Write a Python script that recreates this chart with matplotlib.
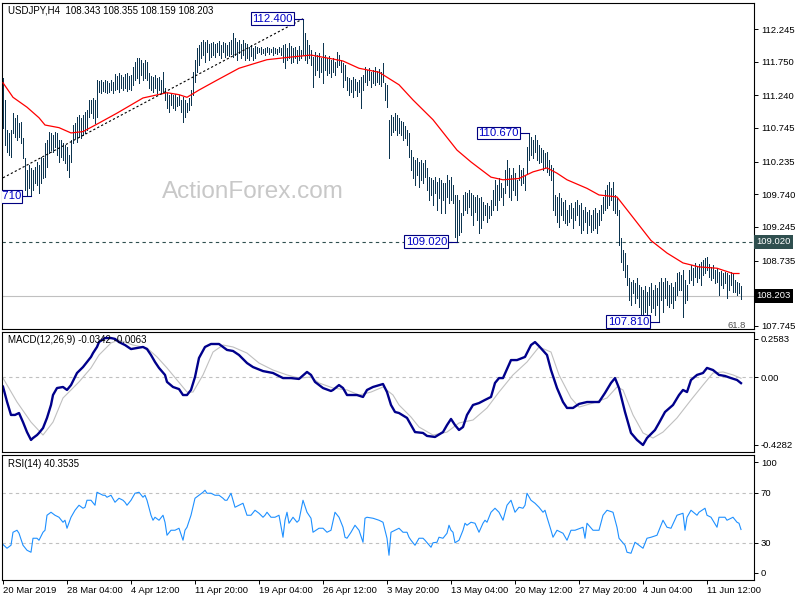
import matplotlib
matplotlib.use('Agg')
import matplotlib.pyplot as plt

plt.rcParams['font.family'] = ['Liberation Sans', 'DejaVu Sans']

# ---- data (H4 bars, index 0 = first visible bar) ----
highs = [
    111.50, 111.17, 110.71, 110.67, 110.71, 110.97, 110.90, 110.94, 110.82, 110.84,
    110.59, 110.29, 110.11, 110.18, 110.14, 110.11, 110.15, 110.23, 110.18, 110.31,
    110.29, 110.52, 110.56, 110.68, 110.67, 110.64, 110.68, 110.67, 110.56, 110.56,
    110.52, 110.49, 110.46, 110.34, 110.56, 110.79, 110.82, 110.91, 110.94, 110.90,
    110.94, 110.99, 111.02, 111.17, 111.17, 111.20, 111.17, 111.47, 111.46, 111.47,
    111.44, 111.47, 111.46, 111.43, 111.47, 111.44, 111.56, 111.53, 111.58, 111.55,
    111.52, 111.56, 111.58, 111.53, 111.55, 111.67, 111.74, 111.81, 111.81, 111.78,
    111.73, 111.78, 111.74, 111.58, 111.53, 111.52, 111.55, 111.50, 111.52, 111.47,
    111.59, 111.35, 111.28, 111.25, 111.28, 111.25, 111.26, 111.21, 111.25, 111.17,
    111.21, 111.17, 111.12, 111.20, 111.32, 111.59, 111.78, 111.96, 112.00, 112.05,
    112.08, 112.05, 112.08, 112.02, 112.03, 112.05, 112.02, 112.03, 112.06, 112.00,
    112.05, 112.03, 112.00, 112.05, 112.08, 112.18, 112.11, 112.05, 112.08, 112.02,
    112.08, 112.03, 112.02, 111.97, 112.00, 111.96, 111.99, 111.97, 111.96, 111.97,
    111.94, 111.96, 111.97, 111.96, 111.94, 111.97, 111.96, 111.94, 111.97, 111.96,
    112.00, 112.02, 111.96, 112.03, 111.99, 111.96, 111.97, 111.93, 111.99, 111.93,
    112.40, 112.18, 112.08, 112.00, 111.93, 111.82, 111.90, 111.85, 111.88, 111.81,
    112.03, 111.85, 111.81, 111.84, 111.78, 111.81, 111.74, 111.90, 111.85, 111.78,
    111.73, 111.70, 111.52, 111.50, 111.47, 111.52, 111.49, 111.44, 111.47, 111.52,
    111.55, 111.67, 111.62, 111.65, 111.59, 111.62, 111.67, 111.61, 111.64, 111.59,
    111.73, 111.43, 111.40, 110.87, 110.94, 110.91, 110.97, 110.94, 110.90, 110.85,
    110.84, 110.78, 110.71, 110.67, 110.41, 110.31, 110.26, 110.29, 110.23, 110.26,
    110.21, 110.26, 110.14, 110.00, 109.99, 109.96, 110.00, 109.93, 109.99, 109.96,
    109.91, 109.91, 110.03, 109.96, 110.00, 109.88, 109.73, 109.73, 109.65, 109.46,
    109.73, 109.77, 109.76, 109.80, 109.76, 109.73, 109.70, 109.73, 109.68, 109.70,
    109.62, 109.58, 109.61, 109.56, 109.65, 109.80, 109.96, 109.88, 109.99, 109.91,
    109.83, 110.11, 110.26, 110.14, 110.03, 110.14, 110.06, 109.96, 110.18, 110.11,
    110.14, 110.03, 110.46, 110.67, 110.61, 110.56, 110.64, 110.56, 110.49, 110.44,
    110.41, 110.37, 110.38, 110.26, 110.18, 110.14, 109.73, 109.70, 109.76, 109.68,
    109.62, 109.65, 109.50, 109.58, 109.61, 109.53, 109.62, 109.65, 109.58, 109.61,
    109.50, 109.55, 109.47, 109.50, 109.43, 109.50, 109.53, 109.46, 109.50, 109.58,
    109.70, 109.80, 109.88, 109.93, 109.83, 109.93, 109.73, 109.68, 109.50, 109.08,
    108.90, 108.85, 108.67, 108.47, 108.41, 108.44, 108.40, 108.47, 108.37, 108.33,
    108.29, 108.35, 108.26, 108.33, 108.40, 108.29, 108.37, 108.32, 108.41, 108.47,
    108.41, 108.47, 108.43, 108.37, 108.40, 108.33, 108.41, 108.55, 108.56, 108.52,
    108.59, 108.44, 108.37, 108.59, 108.67, 108.62, 108.70, 108.64, 108.68, 108.71,
    108.74, 108.77, 108.79, 108.68, 108.64, 108.67, 108.59, 108.62, 108.56, 108.58,
    108.55, 108.56, 108.55, 108.52, 108.56, 108.53, 108.44, 108.41, 108.40, 108.355,
]
lows = [
    110.74, 110.49, 110.38, 110.34, 110.31, 110.67, 110.61, 110.56, 110.61, 110.52,
    110.29, 109.81, 109.73, 109.83, 109.71, 109.81, 109.91, 109.88, 109.76, 109.91,
    109.99, 110.00, 110.15, 110.37, 110.41, 110.38, 110.46, 110.34, 110.23, 110.31,
    110.26, 110.21, 110.11, 110.00, 110.23, 110.52, 110.59, 110.53, 110.61, 110.59,
    110.64, 110.67, 110.71, 110.91, 110.97, 110.90, 110.82, 110.91, 111.29, 111.28,
    111.30, 111.29, 111.28, 111.29, 111.32, 111.28, 111.32, 111.34, 111.29, 111.35,
    111.32, 111.35, 111.31, 111.34, 111.32, 111.40, 111.47, 111.50, 111.43, 111.55,
    111.47, 111.50, 111.47, 111.35, 111.32, 111.29, 111.35, 111.28, 111.32, 111.29,
    111.28, 111.17, 111.05, 110.99, 111.09, 111.05, 111.02, 111.08, 111.09, 110.99,
    110.84, 110.91, 110.99, 111.02, 111.09, 111.25, 111.44, 111.59, 111.70, 111.81,
    111.85, 111.74, 111.90, 111.78, 111.82, 111.85, 111.82, 111.90, 111.85, 111.81,
    111.90, 111.82, 111.85, 111.84, 111.87, 111.82, 111.85, 111.78, 111.88, 111.81,
    111.85, 111.78, 111.81, 111.78, 111.84, 111.78, 111.81, 111.88, 111.90, 111.87,
    111.88, 111.85, 111.90, 111.87, 111.90, 111.85, 111.88, 111.87, 111.90, 111.85,
    111.74, 111.65, 111.78, 111.81, 111.73, 111.74, 111.81, 111.73, 111.78, 111.81,
    111.85, 111.78, 111.73, 111.81, 111.70, 111.37, 111.55, 111.62, 111.52, 111.59,
    111.43, 111.62, 111.55, 111.58, 111.52, 111.59, 111.55, 111.67, 111.70, 111.59,
    111.37, 111.47, 111.32, 111.25, 111.29, 111.21, 111.32, 111.23, 111.29, 111.05,
    111.32, 111.44, 111.40, 111.47, 111.37, 111.43, 111.40, 111.44, 111.41, 111.38,
    111.44, 111.17, 111.06, 110.29, 110.64, 110.68, 110.71, 110.64, 110.67, 110.64,
    110.56, 110.59, 110.49, 110.31, 110.11, 109.99, 109.88, 110.03, 109.85, 109.96,
    109.91, 110.00, 109.81, 109.65, 109.73, 109.58, 109.76, 109.50, 109.68, 109.46,
    109.65, 109.46, 109.70, 109.61, 109.65, 109.61, 109.09, 109.02, 109.12, 109.17,
    109.43, 109.50, 109.46, 109.55, 109.43, 109.27, 109.47, 109.35, 109.15, 109.23,
    109.35, 109.43, 109.32, 109.38, 109.43, 109.50, 109.58, 109.50, 109.65, 109.70,
    109.58, 109.76, 109.88, 109.70, 109.65, 109.81, 109.73, 109.65, 109.96, 109.88,
    109.91, 109.81, 110.06, 110.26, 110.34, 110.29, 110.38, 110.26, 110.21, 110.23,
    110.11, 110.14, 110.08, 110.03, 109.96, 109.50, 109.43, 109.32, 109.24, 109.43,
    109.35, 109.30, 109.27, 109.32, 109.38, 109.23, 109.35, 109.43, 109.27, 109.15,
    109.20, 109.32, 109.15, 109.27, 109.17, 109.20, 109.23, 109.15, 109.27, 109.35,
    109.46, 109.50, 109.53, 109.58, 109.65, 109.50, 109.46, 109.43, 108.97, 108.71,
    108.59, 108.49, 108.37, 108.14, 108.06, 108.24, 108.09, 108.17, 108.03, 107.87,
    107.86, 107.96, 107.91, 108.06, 107.96, 108.02, 107.91, 108.06, 107.81, 108.14,
    107.96, 108.17, 108.06, 108.03, 108.09, 108.02, 108.14, 108.21, 108.29, 108.29,
    107.88, 108.09, 108.14, 108.40, 108.44, 108.37, 108.49, 108.41, 108.47, 108.37,
    108.52, 108.55, 108.59, 108.49, 108.44, 108.47, 108.40, 108.41, 108.21, 108.37,
    108.32, 108.40, 108.17, 108.29, 108.37, 108.26, 108.26, 108.21, 108.24, 108.159,
]

ma_idx = [0, 5, 12, 18, 21, 28, 34, 40, 48, 57, 70, 82, 88, 92, 98, 107, 118, 132,
          144, 154, 165, 170, 178, 188, 198, 205, 215, 227, 234, 244, 250, 258, 265,
          272, 277, 282, 292, 298, 307, 315, 324, 332, 340, 348, 357, 365, 368]
ma_val = [111.43, 111.21, 111.06, 110.90, 110.79, 110.75, 110.67, 110.69, 110.82,
          110.97, 111.20, 111.28, 111.25, 111.21, 111.32, 111.47, 111.65, 111.78,
          111.82, 111.85, 111.79, 111.76, 111.65, 111.59, 111.40, 111.17, 110.87,
          110.41, 110.23, 110.00, 109.96, 109.98, 110.08, 110.14, 110.06, 109.96,
          109.83, 109.73, 109.70, 109.39, 109.04, 108.85, 108.70, 108.64, 108.62,
          108.54, 108.54]

macd_idx = [0, 2, 4, 6, 8, 10, 12, 14, 15, 17, 18, 20, 22, 24, 25, 27, 30, 32, 34, 37,
            40, 42, 44, 45, 47, 48, 51, 54, 56, 58, 61, 64, 67, 70, 72, 74, 76, 78, 81,
            82, 85, 88, 90, 92, 94, 96, 98, 101, 104, 108, 110, 112, 115, 118, 122, 125,
            130, 135, 140, 144, 148, 152, 154, 156, 160, 164, 165, 168, 170, 172, 177,
            180, 182, 185, 190, 192, 194, 196, 198, 202, 206, 210, 212, 216, 220, 222,
            224, 226, 228, 230, 232, 235, 238, 241, 244, 246, 248, 250, 254, 257, 261,
            264, 266, 268, 272, 274, 277, 280, 282, 285, 288, 292, 295, 298, 301, 304,
            306, 308, 311, 314, 317, 320, 322, 326, 328, 331, 335, 338, 340, 342, 344,
            347, 350, 352, 355, 358, 361, 364, 367, 369]
macd_val = [-0.054, -0.140, -0.216, -0.216, -0.205, -0.257, -0.314, -0.359, -0.348,
            -0.331, -0.319, -0.291, -0.233, -0.159, -0.102, -0.062, -0.056, -0.073,
            -0.045, 0.024, 0.058, 0.087, 0.116, 0.138, 0.173, 0.201, 0.224, 0.224,
            0.219, 0.201, 0.184, 0.161, 0.167, 0.173, 0.161, 0.127, 0.087, 0.053,
            0.013, -0.027, -0.056, -0.068, -0.102, -0.102, -0.073, 0.001, 0.110,
            0.173, 0.190, 0.190, 0.173, 0.156, 0.150, 0.127, 0.081, 0.058, 0.035,
            0.024, -0.005, -0.005, -0.010, 0.030, 0.013, -0.027, -0.062, -0.079,
            -0.073, -0.045, -0.062, -0.102, -0.102, -0.113, -0.073, -0.056, -0.039,
            -0.085, -0.159, -0.199, -0.205, -0.233, -0.314, -0.319, -0.336, -0.342,
            -0.314, -0.274, -0.239, -0.274, -0.302, -0.285, -0.216, -0.159, -0.148,
            -0.130, -0.113, -0.033, -0.005, -0.005, 0.098, 0.098, 0.116, 0.184, 0.201,
            0.178, 0.127, 0.041, -0.062, -0.142, -0.176, -0.176, -0.153, -0.142,
            -0.142, -0.142, -0.090, -0.033, -0.005, -0.062, -0.199, -0.319, -0.359,
            -0.388, -0.348, -0.302, -0.262, -0.199, -0.159, -0.102, -0.073, -0.085,
            -0.016, 0.013, 0.024, 0.053, 0.041, 0.013, 0.007, -0.005, -0.016, -0.034]

signal_idx = [0, 7, 14, 20, 25, 30, 34, 38, 44, 48, 54, 58, 65, 72, 77, 82, 87, 92, 95,
              100, 105, 110, 115, 122, 128, 135, 142, 148, 154, 158, 165, 172, 178, 184,
              190, 195, 198, 204, 208, 215, 222, 228, 235, 242, 248, 255, 262, 268, 274,
              278, 284, 288, 295, 302, 307, 310, 315, 320, 325, 330, 337, 344, 350, 355,
              360, 365, 369]
signal_val = [-0.005, -0.142, -0.257, -0.331, -0.257, -0.119, -0.073, -0.027, 0.053,
              0.127, 0.196, 0.213, 0.184, 0.167, 0.116, 0.053, -0.016, -0.085, -0.085,
              0.013, 0.144, 0.184, 0.173, 0.138, 0.081, 0.041, 0.013, -0.005, 0.001,
              -0.033, -0.062, -0.073, -0.102, -0.085, -0.056, -0.102, -0.159, -0.228,
              -0.285, -0.331, -0.314, -0.262, -0.245, -0.176, -0.085, 0.013, 0.087,
              0.173, 0.144, 0.013, -0.119, -0.171, -0.148, -0.119, -0.056, -0.073,
              -0.216, -0.319, -0.348, -0.314, -0.233, -0.130, -0.045, 0.024, 0.030,
              0.013, -0.006]

rsi_idx = [0, 2, 4, 5, 7, 8, 10, 12, 14, 15, 17, 18, 20, 21, 22, 24, 26, 28, 30, 31, 32,
           34, 36, 38, 40, 41, 42, 44, 46, 47, 50, 51, 52, 54, 56, 58, 60, 61, 62, 64, 66,
           68, 70, 71, 72, 74, 75, 76, 78, 80, 81, 82, 84, 86, 88, 90, 91, 92, 94, 96, 98,
           100, 101, 102, 104, 106, 108, 110, 111, 112, 114, 116, 118, 120, 122, 124, 126,
           128, 130, 131, 132, 134, 136, 138, 140, 141, 142, 143, 145, 147, 148, 150, 152,
           154, 155, 158, 160, 162, 164, 166, 168, 170, 171, 172, 174, 176, 178, 180, 181,
           182, 185, 188, 190, 192, 193, 194, 196, 198, 200, 202, 203, 204, 206, 208, 210,
           211, 214, 215, 217, 218, 220, 222, 223, 224, 225, 226, 228, 230, 231, 232, 234,
           236, 238, 240, 241, 242, 244, 246, 248, 250, 252, 254, 256, 258, 260, 261, 262,
           264, 266, 268, 270, 271, 272, 274, 275, 277, 280, 282, 284, 286, 290, 291, 292,
           295, 298, 300, 302, 305, 307, 308, 311, 312, 314, 316, 318, 320, 322, 324, 327,
           328, 330, 332, 334, 337, 340, 341, 342, 344, 347, 348, 351, 352, 354, 357, 358,
           361, 362, 365, 367, 368, 369]
rsi_val = [28.4, 25.4, 27.8, 38.2, 39.8, 37.4, 27.8, 23.8, 22.2, 33.4, 33.4, 31.8, 38.2,
           39.8, 51.8, 54.2, 51.8, 50.2, 46.2, 47.8, 41.4, 50.2, 55.8, 59.8, 57.4, 58.2,
           63.8, 63.8, 59.8, 70.2, 67.8, 67.8, 66.2, 67.8, 62.2, 65.4, 63.8, 62.2, 59.8,
           63.8, 69.4, 70.2, 66.2, 67.8, 63.8, 51.8, 47.8, 50.2, 47.8, 51.8, 46.2, 35.8,
           39.8, 39.8, 41.4, 31.8, 39.8, 42.2, 51.8, 65.4, 67.8, 70.2, 71.8, 69.4, 69.4,
           67.8, 67.8, 65.4, 63.8, 63.8, 69.4, 58.2, 59.8, 61.4, 51.8, 51.8, 55.8, 53.4,
           50.2, 51.8, 54.2, 50.2, 50.2, 51.8, 34.2, 47.8, 54.2, 45.4, 50.2, 46.2, 47.8,
           63.8, 54.2, 49.4, 38.2, 41.4, 41.4, 38.2, 39.8, 54.2, 50.2, 42.2, 34.2, 33.4,
           38.2, 43.8, 39.8, 30.2, 49.4, 50.2, 49.4, 47.8, 46.2, 33.4, 19.8, 38.2, 39.8,
           41.4, 38.2, 38.2, 34.2, 31.8, 27.8, 33.4, 33.4, 31.8, 26.2, 29.8, 30.2, 34.2,
           33.4, 37.4, 43.8, 39.8, 38.2, 29.8, 31.8, 39.8, 45.4, 43.8, 46.2, 45.4, 38.2,
           45.4, 47.8, 46.2, 54.2, 57.4, 54.2, 47.8, 59.8, 63.8, 54.2, 58.2, 57.4, 59.8,
           69.4, 63.8, 61.4, 58.2, 54.2, 55.8, 50.2, 39.8, 34.2, 39.8, 37.4, 31.8, 39.8,
           39.8, 42.2, 33.4, 45.4, 39.8, 39.8, 51.8, 55.8, 54.2, 42.2, 33.4, 27.8, 22.2,
           21.4, 30.2, 27.8, 25.4, 33.4, 34.2, 35.8, 39.8, 47.8, 42.2, 41.4, 51.8, 53.4,
           39.8, 50.2, 55.8, 51.8, 54.2, 57.4, 51.8, 50.2, 42.2, 50.2, 50.2, 47.8, 50.2,
           46.2, 45.4, 40.4]

# labelled swing points: bar index, price
swing_idx = [150, 14, 263, 227, 328]
swing_price = [112.400, 109.710, 110.670, 109.020, 107.810]
# trend line from the March low to the April high
trend_idx = [0, 150]
trend_price = [109.99, 112.40]

price_ticks = [112.245, 111.750, 111.240, 110.745, 110.235, 109.740, 109.245,
               108.735, 107.745]
date_idx = [0, 32, 64, 96, 128, 160, 192, 224, 256, 288, 320, 352]
date_labels = ['20 Mar 2019', '28 Mar 04:00', '4 Apr 12:00', '11 Apr 20:00',
               '19 Apr 04:00', '26 Apr 12:00', '3 May 20:00', '13 May 04:00',
               '20 May 12:00', '27 May 20:00', '4 Jun 04:00', '11 Jun 12:00']

level_line = 109.020
bid = 108.203

# ---- figure ----
W, H = 800, 600
fig = plt.figure(figsize=(W / 100, H / 100), dpi=100)


def panel(x0, y0, x1, y1):
    a = fig.add_axes([x0 / W, 1 - y1 / H, (x1 - x0) / W, (y1 - y0) / H])
    for s in a.spines.values():
        s.set_linewidth(0.8)
        s.set_color('black')
    a.set_xlim(-0.5, 375.5)
    a.yaxis.tick_right()
    a.tick_params(axis='y', direction='out', length=3, width=0.7, labelsize=6.8, pad=2)
    return a


ax = panel(2, 3, 754, 329)
axm = panel(2, 332, 754, 452)
axr = panel(2, 455, 754, 580)

BAR = '#0D3550'
NAVY = '#000080'
GREY = '#C0C0C0'

# main price panel
idx = list(range(len(highs)))
ax.vlines(idx, lows, highs, color=BAR, lw=0.72, antialiased=False, zorder=3)
ax.plot(ma_idx, ma_val, color='red', lw=0.9, zorder=4)
ax.plot(trend_idx, trend_price, color='black', lw=0.8, ls=(0, (2, 2)), zorder=4)
ax.axhline(level_line, color='#2F4F4F', lw=0.8, ls=(0, (3, 3)), zorder=2)
ax.axhline(bid, color=GREY, lw=0.8, zorder=2)
ax.set_ylim(107.699, 112.639)
ax.set_yticks(price_ticks)
ax.set_yticklabels(['%.3f' % t for t in price_ticks])
ax.set_xticks([])

for i, p in zip(swing_idx, swing_price):
    ax.plot([i - 5, i], [p, p], color=NAVY, lw=0.8, zorder=5)
    ax.text(i - 5, p, '%.3f' % p, ha='right', va='center', fontsize=8.2,
            color='#0000C8', zorder=6, clip_on=True,
            bbox=dict(boxstyle='square,pad=0.12', fc='white', ec=NAVY, lw=0.8))

ax.text(0.334, 0.42, 'ActionForex.com', transform=ax.transAxes, fontsize=17.5,
        color='#C8C8C8', ha='center', va='center', zorder=1)
ax.text(367, 107.745, '61.8', fontsize=6.8, color='#505050', ha='center',
        va='center', clip_on=True, zorder=6)
ax.text(0.008, 0.978, 'USDJPY,H4  108.343 108.355 108.159 108.203',
        transform=ax.transAxes, fontsize=7, va='center', ha='left', zorder=7)

ytr = ax.get_yaxis_transform()
ax.text(1.003, level_line, '%.3f' % level_line, transform=ytr, ha='left',
        va='center', fontsize=6.8, color='white', clip_on=False,
        bbox=dict(boxstyle='square,pad=0.25', fc='#2F4F4F', ec='none'))
ax.text(1.003, bid, '%.3f' % bid, transform=ytr, ha='left', va='center',
        fontsize=6.8, color='white', clip_on=False,
        bbox=dict(boxstyle='square,pad=0.25', fc='black', ec='none'))

# MACD panel
mlo, mhi = -0.428, 0.2586
axm.set_ylim(mlo, mhi)
axm.axhline(0, color=GREY, lw=0.8, ls=(0, (3, 3)))
axm.plot(signal_idx, signal_val, color=GREY, lw=0.8)
axm.plot(macd_idx, macd_val, color='#00008B', lw=1.7)
mspan = mhi - mlo
axm.set_yticks([mhi - 7 / 120 * mspan, 0, mlo + 7 / 120 * mspan])
axm.set_yticklabels(['0.2583', '0.00', '-0.4282'])
axm.set_xticks([])
axm.text(0.008, 0.933, 'MACD(12,26,9) -0.0342 -0.0063', transform=axm.transAxes,
         fontsize=7, va='center', ha='left')

# RSI panel
axr.set_ylim(0, 100)
for lv in (70, 30):
    axr.axhline(lv, color=GREY, lw=0.8, ls=(0, (3, 3)))
axr.plot(rsi_idx, rsi_val, color='#1E90FF', lw=0.8)
axr.set_yticks([100 - 7 / 125 * 100, 70, 30, 7 / 125 * 100])
axr.set_yticklabels(['100', '70', '30', '0'])
axr.set_xticks(date_idx)
axr.set_xticklabels(date_labels, ha='left')
axr.tick_params(axis='x', direction='out', length=3, width=0.7, labelsize=6.8, pad=1)
axr.text(0.008, 0.928, 'RSI(14) 40.3535', transform=axr.transAxes, fontsize=7,
         va='center', ha='left')

fig.savefig('out.png', dpi=100, facecolor='white')
